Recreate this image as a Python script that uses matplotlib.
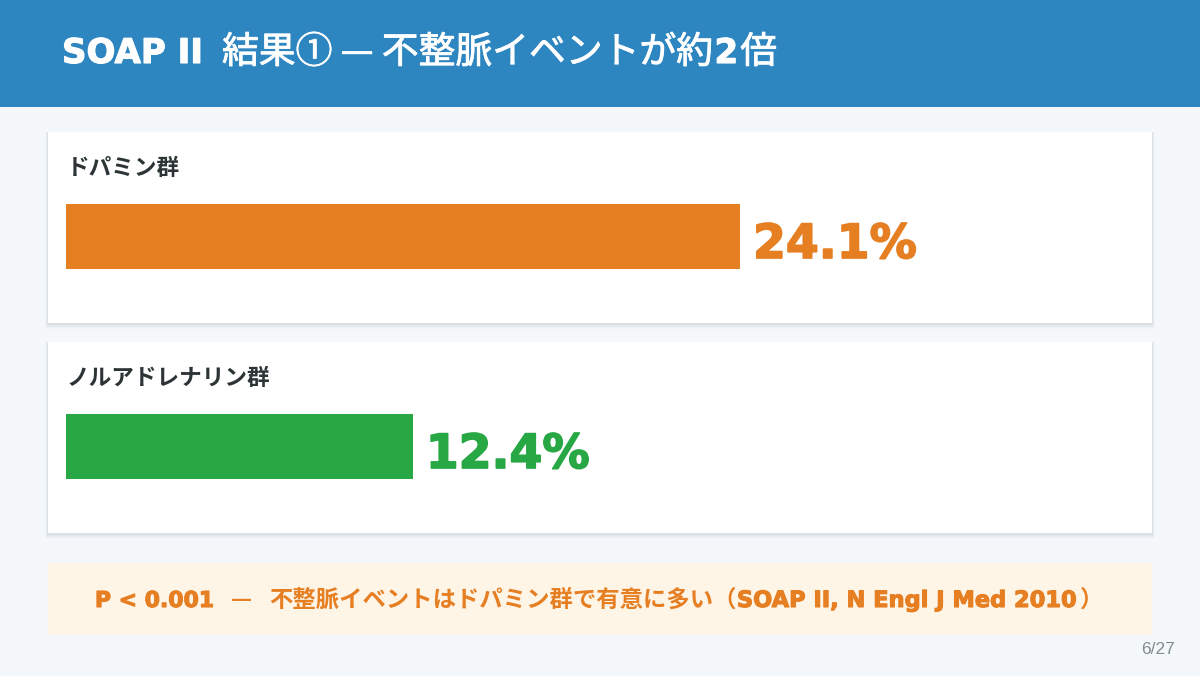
import matplotlib
matplotlib.use("Agg")
import matplotlib.pyplot as plt
import matplotlib.patheffects as pe
from matplotlib.patches import Rectangle

# data
groups = ["ドパミン群", "ノルアドレナリン群"]
rates = [24.1, 12.4]
bar_colors = ["#E67E22", "#28A745"]
page = "6/27"

W, H = 1200, 676
LATIN = ["DejaVu Sans"]
CJK = ["Noto Sans CJK JP", "DejaVu Sans"]
plt.rcParams["font.family"] = ["Noto Sans CJK JP", "DejaVu Sans"]

fig = plt.figure(figsize=(W / 100, H / 100), dpi=100)
fig.patch.set_facecolor("#F4F8FB")
renderer = fig.canvas.get_renderer()


def box(x0, y0, x1, y1):
    # pixel box (top-left origin) -> figure coords
    return x0 / W, 1 - y1 / H, (x1 - x0) / W, (y1 - y0) / H


def rect(x0, y0, x1, y1, color, z=1, alpha=1.0):
    x, y, w, h = box(x0, y0, x1, y1)
    fig.patches.append(Rectangle((x, y), w, h, transform=fig.transFigure,
                                 facecolor=color, edgecolor="none", zorder=z, alpha=alpha))


def card(x0, y0, x1, y1):
    # soft shadow
    for i, a in enumerate([0.05, 0.045, 0.035, 0.025, 0.015]):
        d = i + 1
        rect(x0 - d * 0.6, y0 - d * 0.3 + 1, x1 + d * 0.6, y1 + d * 0.9 + 1, "#5D6D7E", z=1, alpha=a)
    rect(x0, y0, x1, y1, "white", z=2)


def runs_text(runs, x, baseline, color, align="left"):
    # lay out text pieces in different fonts one after another on a baseline
    items = []
    for s, fam, size, weight, stroke, gap in runs:
        t = fig.text(0, 1 - baseline / H, s, family=fam, fontsize=size, fontweight=weight,
                     color=color, va="baseline", ha="left", zorder=5)
        if stroke:
            t.set_path_effects([pe.withStroke(linewidth=stroke, foreground=color)])
        items.append((t, t.get_window_extent(renderer).width, gap))
    total = sum(w + g for _, w, g in items)
    pos = x if align == "left" else x - total / 2
    for t, w, g in items:
        pos += g
        t.set_x(pos / W)
        pos += w


# header
rect(0, 0, W, 107, "#2E86C1", z=1)
runs_text([
    ("SOAP II", LATIN, 24.5, "bold", 0.8, 0),
    ("結果① — 不整脈イベントが約", CJK, 26.5, "normal", 0.6, 19),
    ("2", LATIN, 24.5, "bold", 0.8, 2),
    ("倍", CJK, 26.5, "normal", 0.6, 2),
], 62, 63, "white")

# cards with bars
card_tops = [132, 342]
xmax = 1068 * rates[0] / 674
for top, grp, val, col in zip(card_tops, groups, rates, bar_colors):
    card(48, top, 1152, top + 191)
    fig.text(67 / W, 1 - (top + 36) / H, grp, family=CJK, color="#2D3436", fontsize=16.3,
             fontweight="bold", va="center", ha="left", zorder=5)
    ax = fig.add_axes(box(66, top + 72, 1134, top + 137))
    ax.set_zorder(4)
    ax.patch.set_alpha(0)
    ax.barh(0, val, height=1, color=col, left=0)
    ax.set_xlim(0, xmax)
    ax.set_ylim(-0.5, 0.5)
    ax.axis("off")
    ax.annotate(f"{val}%", xy=(val, 0), xytext=(9.4, -15.5), textcoords="offset points",
                family=LATIN, color=col, fontsize=34, fontweight="bold", va="baseline",
                ha="left", annotation_clip=False,
                path_effects=[pe.withStroke(linewidth=1.2, foreground=col)])

# footer note
rect(48, 563, 1152, 635, "#FEF5E7", z=2)
runs_text([
    ("P < 0.001", LATIN, 15.8, "bold", 0.8, 0),
    ("—", CJK, 16.8, "bold", 0, 17),
    ("不整脈イベントはドパミン群で有意に多い（", CJK, 16.8, "bold", 0, 17),
    ("SOAP II, N Engl J Med 2010", LATIN, 16.2, "bold", 0.8, 0),
    ("）", CJK, 16.8, "bold", 0, 2),
], 599, 607, "#E67E22", align="center")

fig.text(1175 / W, 1 - 649 / H, page, family=["Liberation Sans"], color="#7F8C8D", fontsize=12.5,
         va="center", ha="right", zorder=5)

fig.savefig("out.png", dpi=100, facecolor=fig.get_facecolor())
